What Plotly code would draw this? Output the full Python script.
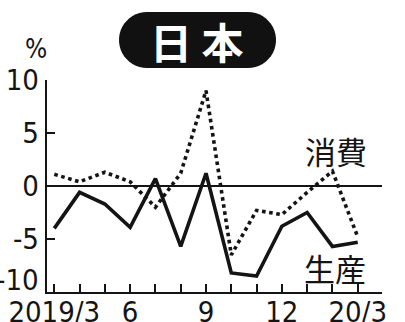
import numpy as np
import plotly.graph_objects as go

# Monthly year-on-year change (%), 2019/3 .. 2020/3
months = ["2019/3", "4", "5", "6", "7", "8", "9", "10", "11", "12", "20/1", "2", "20/3"]
tick_labels = ["2019/3", "", "", "6", "", "", "9", "", "", "12", "", "", "20/3"]
production = [-4.0, -0.6, -1.7, -3.9, 0.7, -5.7, 1.2, -8.2, -8.5, -3.8, -2.5, -5.7, -5.3]
consumption = [1.1, 0.4, 1.3, 0.4, -2.0, 1.2, 9.0, -6.5, -2.3, -2.7, -0.6, 1.4, -4.8]
y_ticks = [-10, -5, 0, 5, 10]
y_min, y_max = -10, 10

W, H = 405, 322


def px(x):
    return x / W


def py(y):
    return 1 - y / H


INK = "#141414"
NARROW = "Liberation Sans Narrow, DejaVu Sans Condensed, Arial Narrow, sans-serif"
TICK_SIZE = 29
idx = list(range(len(months)))

fig = go.Figure()
fig.add_trace(go.Scatter(x=idx, y=consumption, mode="lines",
                         line=dict(color=INK, width=3.6, dash="dot"),
                         hoverinfo="skip", showlegend=False))
fig.add_trace(go.Scatter(x=idx, y=production, mode="lines",
                         line=dict(color=INK, width=3.6),
                         hoverinfo="skip", showlegend=False))

# rounded title badge
x0, x1, yt, yb = 119, 276, 12, 68
r = (yb - yt) / 2
cy = (yt + yb) / 2
pts = []
for a in np.linspace(-np.pi / 2, np.pi / 2, 24):
    pts.append((x1 - r + r * np.cos(a), cy + r * np.sin(a)))
for a in np.linspace(np.pi / 2, 3 * np.pi / 2, 24):
    pts.append((x0 + r + r * np.cos(a), cy + r * np.sin(a)))
path = "M " + " L ".join(f"{px(a):.5f},{py(b):.5f}" for a, b in pts) + " Z"

axis_common = dict(
    ticks="inside", ticklen=8, tickwidth=1.5, tickcolor=INK,
    showline=True, linecolor=INK, linewidth=2,
    showgrid=False, automargin=False, fixedrange=True,
    tickfont=dict(family=NARROW, size=TICK_SIZE, color=INK),
)

# the bottom value label sits raised above the axis corner, clear of the dates
y_ticktext = ["" if v == y_min else str(v) for v in y_ticks]

fig.update_layout(
    template="none",
    width=W, height=H,
    margin=dict(l=0, r=0, t=0, b=0, pad=0),
    paper_bgcolor="white", plot_bgcolor="white",
    font=dict(family=NARROW, color=INK),
    xaxis=dict(
        domain=[px(46.7), px(382)], range=[-0.3, 12.96],
        tickvals=idx, ticktext=tick_labels, zeroline=False,
        ticklabelstandoff=-7, **axis_common,
    ),
    yaxis=dict(
        domain=[py(292), py(80)], range=[y_min, y_max],
        tickvals=y_ticks, ticktext=y_ticktext,
        zeroline=True, zerolinecolor=INK, zerolinewidth=1.5,
        ticklabelstandoff=0, **axis_common,
    ),
    shapes=[dict(type="path", xref="paper", yref="paper", path=path,
                 fillcolor="#111111", line=dict(width=0), layer="above")],
    annotations=[
        dict(x=px(41), y=py(280), xref="paper", yref="paper", text=str(y_min),
             showarrow=False, xanchor="right", yanchor="middle",
             font=dict(family=NARROW, size=TICK_SIZE, color=INK)),
        dict(x=px(197), y=py(41), xref="paper", yref="paper", text="日 本",
             showarrow=False, xanchor="center", yanchor="middle",
             font=dict(family="Noto Sans CJK JP", size=42, color="white",
                       weight="bold")),
        dict(x=px(36), y=py(49), xref="paper", yref="paper", text="%",
             showarrow=False, xanchor="center", yanchor="middle",
             font=dict(family=NARROW, size=26, color=INK)),
        dict(x=px(336), y=py(150), xref="paper", yref="paper", text="消費",
             showarrow=False, xanchor="center", yanchor="middle",
             font=dict(family="Noto Sans CJK JP", size=31, color=INK)),
        dict(x=px(335), y=py(267), xref="paper", yref="paper", text="生産",
             showarrow=False, xanchor="center", yanchor="middle",
             font=dict(family="Noto Sans CJK JP", size=31, color=INK)),
    ],
)

fig.write_html("out.html")
